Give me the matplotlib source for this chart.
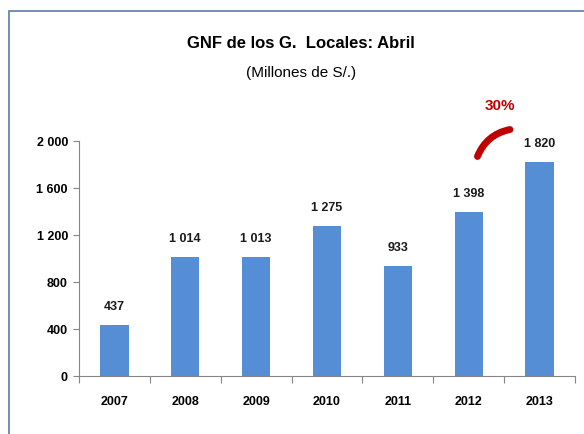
import matplotlib.pyplot as plt
from matplotlib import font_manager
from matplotlib.patches import Rectangle, FancyArrowPatch

years = ["2007", "2008", "2009", "2010", "2011", "2012", "2013"]
values = [437, 1014, 1013, 1275, 933, 1398, 1820]
labels = ["437", "1 014", "1 013", "1 275", "933", "1 398", "1 820"]
yticks = [0, 400, 800, 1200, 1600, 2000]
ytick_labels = ["0", "400", "800", "1 200", "1 600", "2 000"]

names = {f.name for f in font_manager.fontManager.ttflist}
print(sorted(n for n in names if "Condensed" in n or "Narrow" in n))

plt.rcParams['font.family'] = ['Liberation Sans', 'DejaVu Sans']
plt.rcParams['font.stretch'] = 'condensed'

fig = plt.figure(figsize=(5.84, 4.35), dpi=100)
fig.patch.set_facecolor("white")

# outer frame like the spreadsheet chart area
fig.patches.append(Rectangle((9 / 584, -0.05), 1.0, 1 - 12 / 435 + 0.05,
                             transform=fig.transFigure, fill=False,
                             edgecolor="#5B7BA6", linewidth=1.2))

ax = fig.add_axes([79 / 584, 1 - 377 / 435, (575 - 79) / 584, (377 - 141.7) / 435])
x = range(len(years))
ax.bar(x, values, width=0.4, color="#558ED5")

for i, v in enumerate(values):
    ax.text(i, v + 110, labels[i], ha="center", va="bottom",
            fontsize=9, fontweight="bold", color="#1a1a1a")

ax.set_xlim(-0.5, len(years) - 0.5)
ax.set_ylim(0, 2000)
ax.set_yticks(yticks)
ax.set_yticklabels(ytick_labels, fontsize=9, fontweight="bold")
ax.set_xticks([i - 0.5 for i in range(len(years) + 1)], minor=False)
ax.set_xticklabels([])
ax.set_xticks(list(x), minor=True)
ax.set_xticklabels(years, minor=True, fontsize=9, fontweight="bold")
ax.tick_params(axis="x", which="major", length=5, color="#868686")
ax.tick_params(axis="x", which="minor", length=0, pad=14)
ax.tick_params(axis="y", length=4, color="#868686", pad=4)

for s in ["top", "right"]:
    ax.spines[s].set_visible(False)
for s in ["left", "bottom"]:
    ax.spines[s].set_color("#868686")

# growth annotation
arc = FancyArrowPatch((5.11, 1844), (5.62, 2099), arrowstyle="-",
                      connectionstyle="arc3,rad=-0.3", color="#C00000",
                      linewidth=5, capstyle="round", clip_on=False)
ax.add_patch(arc)
ax.text(5.44, 2300, "30%", ha="center", va="center", color="#C00000",
        fontsize=11, fontweight="bold", clip_on=False)

fig.text(0.515, 1 - 43 / 435, "GNF de los G.  Locales: Abril", ha="center",
         va="center", fontsize=12, fontweight="bold")
fig.text(0.515, 1 - 73 / 435, "(Millones de S/.)", ha="center",
         va="center", fontsize=11)

fig.savefig("out.png", dpi=100)
